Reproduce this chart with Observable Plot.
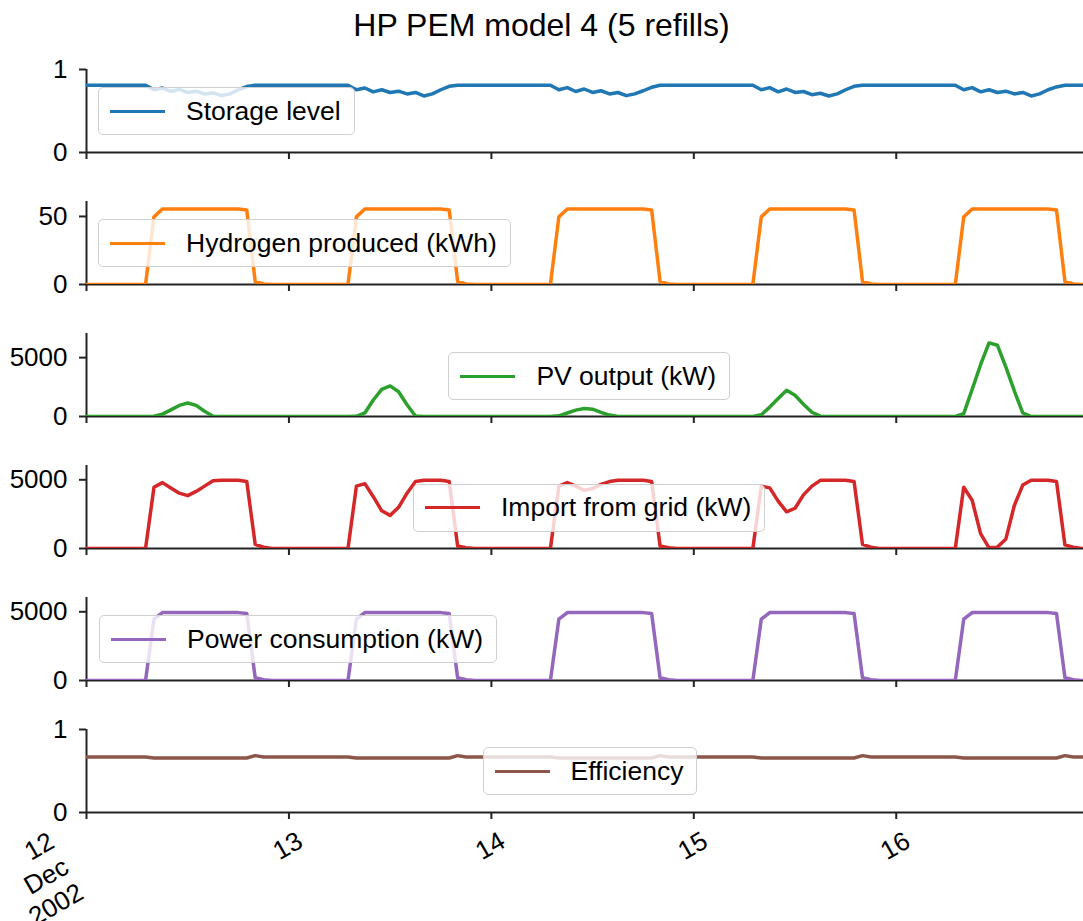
<!DOCTYPE html>
<html><head><meta charset="utf-8">
<script src="https://cdn.jsdelivr.net/npm/d3@7"></script>
<script src="https://cdn.jsdelivr.net/npm/@observablehq/plot@0.6"></script>
<style>
html,body{margin:0;padding:0;background:#fff;overflow:hidden}
#root{position:relative;width:1083px;height:921px;font-family:"Liberation Sans",Arial,sans-serif;color:#000}
.title{position:absolute;left:0;width:1083px;top:9px;text-align:center;font-size:32px;line-height:32px;white-space:nowrap}
.panel{position:absolute;left:0}
.legend{position:absolute;height:48px;box-sizing:border-box;display:flex;align-items:center;padding:0 13px 0 11px;border:1.6px solid #d0d0d0;border-radius:5px;background:rgba(255,255,255,0.8);font-size:26.5px;white-space:nowrap}
.legend .h{width:55px;height:0;border-top:3.5px solid;margin-right:21px}
</style>
</head><body>
<div id="root"></div>
<script>
// ---------- data (hourly, 12 Dec 2002 00:00 .. 16 Dec 2002 23:00) ----------
const startTime = "2002-12-12T00:00:00Z";
const storage = [
  0.811,0.811,0.811,0.811,0.811,0.811,0.811,0.811,0.756,0.777,0.735,0.760,0.723,0.739,0.706,0.718,0.685,0.706,0.756,0.794,0.811,0.811,0.811,0.811,
  0.811,0.811,0.811,0.811,0.811,0.811,0.811,0.811,0.756,0.777,0.731,0.756,0.723,0.739,0.706,0.723,0.681,0.706,0.756,0.798,0.811,0.811,0.811,0.811,
  0.811,0.811,0.811,0.811,0.811,0.811,0.811,0.811,0.756,0.782,0.735,0.765,0.723,0.744,0.706,0.723,0.685,0.706,0.744,0.786,0.811,0.811,0.811,0.811,
  0.811,0.811,0.811,0.811,0.811,0.811,0.811,0.811,0.756,0.782,0.731,0.765,0.723,0.735,0.697,0.714,0.681,0.706,0.756,0.798,0.811,0.811,0.811,0.811,
  0.811,0.811,0.811,0.811,0.811,0.811,0.811,0.811,0.756,0.782,0.731,0.756,0.723,0.739,0.706,0.723,0.681,0.706,0.756,0.790,0.811,0.811,0.811,0.811
];
const hydrogen = [
  0,0,0,0,0,0,0,0,49.7,55.5,55.5,55.5,55.5,55.5,55.5,55.5,55.5,55.5,55.5,54.8,2.2,0.4,0,0,
  0,0,0,0,0,0,0,0,49.7,55.5,55.5,55.5,55.5,55.5,55.5,55.5,55.5,55.5,55.5,54.8,2.2,0.4,0,0,
  0,0,0,0,0,0,0,0,49.7,55.5,55.5,55.5,55.5,55.5,55.5,55.5,55.5,55.5,55.5,54.8,2.2,0.4,0,0,
  0,0,0,0,0,0,0,0,49.7,55.5,55.5,55.5,55.5,55.5,55.5,55.5,55.5,55.5,55.5,54.8,2.2,0.4,0,0,
  0,0,0,0,0,0,0,0,49.7,55.5,55.5,55.5,55.5,55.5,55.5,55.5,55.5,55.5,55.5,54.8,2.2,0.4,0,0
];
const pvOutput = [
  0,0,0,0,0,0,0,0,20,200,560,940,1150,950,450,30,0,0,0,0,0,0,0,0,
  0,0,0,0,0,0,0,0,20,300,1400,2300,2600,2100,1000,40,0,0,0,0,0,0,0,0,
  0,0,0,0,0,0,0,0,60,300,540,685,625,357,120,0,0,0,0,0,0,0,0,0,
  0,0,0,0,0,0,0,0,150,800,1520,2230,1800,1040,360,30,0,0,0,0,0,0,0,0,
  0,0,0,0,0,0,0,0,250,2300,4400,6250,6050,4200,2170,300,0,0,0,0,0,0,0,0
];
const gridImport = [
  0,0,0,0,0,0,0,0,4460,4795,4410,4026,3846,4154,4538,4923,4960,4960,4960,4870,300,100,0,0,
  0,0,0,0,0,0,0,0,4540,4718,3770,2744,2410,3000,4026,4870,4960,4960,4960,4870,180,50,0,0,
  0,0,0,0,0,0,0,0,4540,4795,4538,4230,4360,4667,4870,4960,4960,4960,4960,4870,180,50,0,0,
  0,0,0,0,0,0,0,0,4540,4410,3450,2670,2930,3900,4540,4960,4960,4960,4960,4870,300,100,0,0,
  0,0,0,0,0,0,0,0,4460,3510,1080,50,100,700,3130,4615,4960,4960,4960,4870,260,100,0,0
];
const powerUse = [
  0,0,0,0,0,0,0,0,4460,4940,4940,4940,4940,4940,4940,4940,4940,4940,4940,4870,200,50,0,0,
  0,0,0,0,0,0,0,0,4460,4940,4940,4940,4940,4940,4940,4940,4940,4940,4940,4870,200,50,0,0,
  0,0,0,0,0,0,0,0,4460,4940,4940,4940,4940,4940,4940,4940,4940,4940,4940,4870,200,50,0,0,
  0,0,0,0,0,0,0,0,4460,4940,4940,4940,4940,4940,4940,4940,4940,4940,4940,4870,200,50,0,0,
  0,0,0,0,0,0,0,0,4460,4940,4940,4940,4940,4940,4940,4940,4940,4940,4940,4870,200,50,0,0
];
const efficiency = [
  0.668,0.668,0.668,0.668,0.668,0.668,0.668,0.668,0.656,0.656,0.656,0.656,0.656,0.656,0.656,0.656,0.656,0.656,0.656,0.656,0.685,0.668,0.668,0.668,
  0.668,0.668,0.668,0.668,0.668,0.668,0.668,0.668,0.656,0.656,0.656,0.656,0.656,0.656,0.656,0.656,0.656,0.656,0.656,0.656,0.685,0.668,0.668,0.668,
  0.668,0.668,0.668,0.668,0.668,0.668,0.668,0.668,0.656,0.656,0.656,0.656,0.656,0.656,0.656,0.656,0.656,0.656,0.656,0.656,0.685,0.668,0.668,0.668,
  0.668,0.668,0.668,0.668,0.668,0.668,0.668,0.668,0.656,0.656,0.656,0.656,0.656,0.656,0.656,0.656,0.656,0.656,0.656,0.656,0.685,0.668,0.668,0.668,
  0.668,0.668,0.668,0.668,0.668,0.668,0.668,0.668,0.656,0.656,0.656,0.656,0.656,0.656,0.656,0.656,0.656,0.656,0.656,0.656,0.685,0.668,0.668,0.668
];
const seriesNames = ["Storage level","Hydrogen produced (kWh)","PV output (kW)","Import from grid (kW)","Power consumption (kW)","Efficiency"];
const seriesColors = ["#1f77b4","#ff7f0e","#2ca02c","#d62728","#9467bd","#8c564b"];
const yMax = [1, 61, 7050, 6040, 6040, 1];
const yTicks = [[0,1],[0,50],[0,5000],[0,5000],[0,5000],[0,1]];
const yTickLabels = [["0","1"],["0","50"],["0","5000"],["0","5000"],["0","5000"],["0","1"]];
const dayTickDates = ["2002-12-12","2002-12-13","2002-12-14","2002-12-15","2002-12-16"];
const dayTickLabels = ["12\nDec\n2002","13","14","15","16"];
const titleText = "HP PEM model 4 (5 refills)";

// ---------- build ----------
const t0 = new Date(startTime);
const times = storage.map((_, i) => d3.utcHour.offset(t0, i));
const valuesList = [storage, hydrogen, pvOutput, gridImport, powerUse, efficiency];
const tickRows = dayTickDates.map((d, i) => ({t: new Date(d + "T00:00:00Z"), label: dayTickLabels[i]}));
const xDomain = [t0, d3.utcMinute.offset(t0, Math.round(118.2 * 60))];

// layout (pixels)
const W = 1083, ML = 86, MT = 10, AX_H = 83;
const axisTops = [68.5, 200.5, 332.5, 464.5, 596.5, 728.5];
const legendPos = [[98,111.4],[98,243],[448.4,376],[413,507.6],[99,639],[482.5,771]];

const root = document.getElementById("root");
const title = document.createElement("div");
title.className = "title";
title.textContent = titleText;
root.appendChild(title);

valuesList.forEach((vals, i) => {
  const last = i === valuesList.length - 1;
  const MB = last ? 112 : 14;
  const rows = times.map((t, j) => ({t, v: vals[j]}));
  const labelOf = new Map(yTicks[i].map((v, k) => [v, yTickLabels[i][k]]));
  const marks = [
    Plot.axisX({ticks: tickRows.map(d => d.t), tickSize: 7, strokeWidth: 2, stroke: "#222", tickFormat: () => "", label: null}),
    Plot.axisY({ticks: yTicks[i], tickFormat: d => labelOf.get(d), tickSize: 7, tickPadding: 12, strokeWidth: 2, stroke: "#222", label: null}),
    Plot.ruleY([0], {stroke: "#222", strokeWidth: 2}),
    Plot.ruleX([t0], {stroke: "#222", strokeWidth: 2}),
    Plot.lineY(rows, {x: "t", y: "v", stroke: seriesColors[i], strokeWidth: 3.5, clip: true})
  ];
  if (last) {
    marks.push(Plot.text(tickRows.slice(0, 1), {x: "t", text: "label", frameAnchor: "bottom", dx: -41, dy: 16, rotate: -30, textAnchor: "end", lineAnchor: "top", lineHeight: 1.13, fontSize: 26, fill: "#000"}));
    marks.push(Plot.text(tickRows.slice(1), {x: "t", text: "label", frameAnchor: "bottom", dx: -1, dy: 33.5, rotate: -30, textAnchor: "middle", lineAnchor: "middle", fontSize: 26, fill: "#000"}));
  }
  const svg = Plot.plot({
    width: W,
    height: MT + AX_H + MB,
    marginLeft: ML, marginRight: 0, marginTop: MT, marginBottom: MB,
    style: {fontSize: "26px", fontFamily: "'Liberation Sans', Arial, sans-serif", color: "#000", background: "transparent", overflow: "visible"},
    x: {type: "utc", domain: xDomain},
    y: {domain: [0, yMax[i]]},
    marks
  });
  svg.classList.add("panel");
  svg.style.top = (axisTops[i] - MT) + "px";
  root.appendChild(svg);

  const lg = document.createElement("div");
  lg.className = "legend";
  lg.style.left = legendPos[i][0] + "px";
  lg.style.top = (legendPos[i][1] - 24) + "px";
  const h = document.createElement("span");
  h.className = "h";
  h.style.borderTopColor = seriesColors[i];
  const tx = document.createElement("span");
  tx.textContent = seriesNames[i];
  lg.appendChild(h); lg.appendChild(tx);
  root.appendChild(lg);
});
</script>
</body></html>
